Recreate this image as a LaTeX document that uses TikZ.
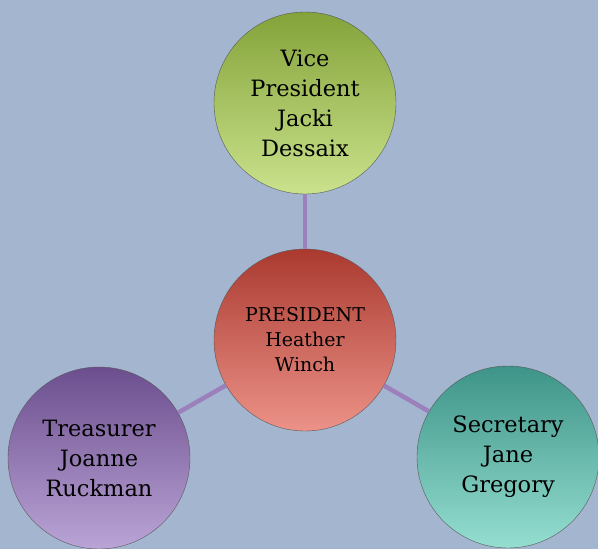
\documentclass[tikz,border=0pt]{standalone}
\usepackage{fontspec}
\setmainfont{DejaVu Serif}
\usepackage{tikz}
\usetikzlibrary{positioning}
\definecolor{bgblue}{RGB}{163,181,207}
\definecolor{linkpurple}{RGB}{155,128,188}
\tikzstyle{member} = [circle, minimum size=182pt, inner sep=0pt, draw=black!65, thin, align=center, text=black, font=\fontsize{22.5}{30}\selectfont]
\tikzstyle{link} = [line width=4.5pt, draw=linkpurple]

\begin{document}
\begin{tikzpicture}[x=1pt,y=-1pt]

\fill [bgblue] (0,0) rectangle (598,549);
\useasboundingbox (0,0) rectangle (598,549);
\clip (0,0) rectangle (598,549);

\node (pres) [member, top color={rgb,255:red,170;green,58;blue,48}, bottom color={rgb,255:red,236;green,146;blue,136}, font=\fontsize{19}{25}\selectfont] at (305,340) {PRESIDENT\\Heather\\Winch};
\node (vice) [member, top color={rgb,255:red,132;green,163;blue,58}, bottom color={rgb,255:red,202;green,226;blue,140}] at (305,103) {Vice\\President\\Jacki\\Dessaix};
\node (treas) [member, top color={rgb,255:red,108;green,78;blue,142}, bottom color={rgb,255:red,186;green,164;blue,214}] at (99,458) {Treasurer\\Joanne\\Ruckman};
\node (secr) [member, top color={rgb,255:red,62;green,148;blue,136}, bottom color={rgb,255:red,148;green,222;blue,208}] at (508,457) {Secretary\\Jane\\Gregory};

\draw [link] (pres) -- (vice);
\draw [link] (pres) -- (treas);
\draw [link] (pres) -- (secr);

\end{tikzpicture}
\end{document}
